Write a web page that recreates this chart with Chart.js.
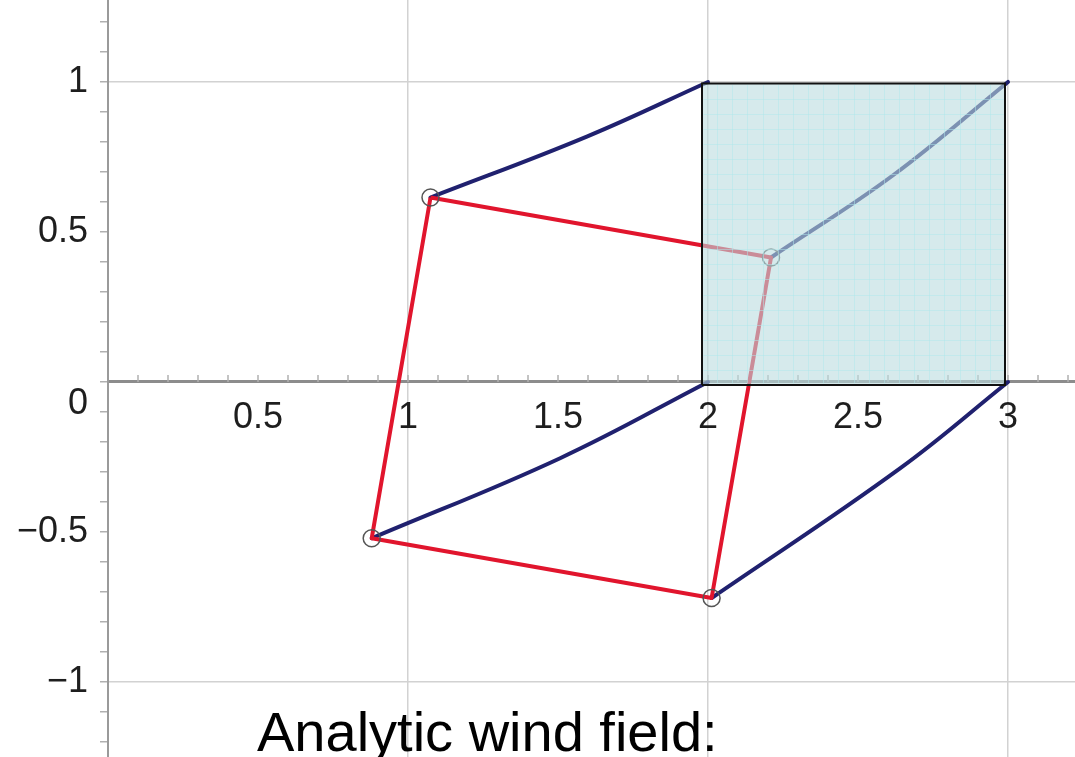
<!DOCTYPE html>
<html>
<head>
<meta charset="utf-8">
<script src="https://cdn.jsdelivr.net/npm/chart.js@4/dist/chart.umd.min.js"></script>
<style>
  html, body { margin: 0; padding: 0; background: #fff; }
  #wrap { position: relative; width: 1075px; height: 757px; overflow: hidden; }
  #caption {
    position: absolute; left: 257px; top: 704px;
    font: 56px "Liberation Sans", Arial, Helvetica, sans-serif;
    line-height: 56px; color: #000; white-space: nowrap;
  }
</style>
</head>
<body>
<div id="wrap">
  <canvas id="c" width="1075" height="757"></canvas>
  <div id="caption">Analytic wind field:</div>
</div>
<script>
// Corners of the advected parcel (red quadrilateral), in order
const parcelX = [1.075, 2.21, 2.012, 0.879];
const parcelY = [0.615, 0.415, -0.72, -0.521];

// Trajectories linking each parcel corner to a corner of the source square
const traj1X = [1.075, 1.596, 2.0];
const traj1Y = [0.615, 0.818, 1.0];
const traj2X = [2.21, 2.618, 3.0];
const traj2Y = [0.415, 0.690, 1.0];
const traj3X = [0.879, 1.507, 2.0];
const traj3Y = [-0.521, -0.254, 0.0];
const traj4X = [2.012, 2.64, 3.0];
const traj4Y = [-0.72, -0.288, 0.0];

// Shaded source square (closed outline)
const squareX = [1.98, 1.98, 2.99, 2.99, 1.98];
const squareY = [-0.01, 0.995, 0.995, -0.01, -0.01];

// Labelled ticks on each axis
const xTickLabels = [0.5, 1, 1.5, 2, 2.5, 3];
const yTickLabels = [1, 0.5, 0, -0.5, -1];

const pts = (xs, ys) => xs.map((v, i) => ({ x: v, y: ys[i] }));
const near = (a, b) => Math.abs(a - b) < 1e-6;
const fmt = v => (v < 0 ? '\u2212' : '') + String(Math.abs(v));

const NAVY = '#20216f';
const RED = '#e1152d';

// fine grid drawn inside the shaded square
const squareGrid = {
  id: 'squareGrid',
  afterDatasetsDraw(chart) {
    const { ctx, scales: { x, y } } = chart;
    const left = x.getPixelForValue(squareX[0]);
    const right = x.getPixelForValue(squareX[2]);
    const top = y.getPixelForValue(squareY[1]);
    const bottom = y.getPixelForValue(squareY[0]);
    ctx.save();
    ctx.beginPath();
    ctx.rect(left + 1.5, top + 1.5, right - left - 3, bottom - top - 3);
    ctx.clip();
    ctx.strokeStyle = 'rgba(175,232,236,0.5)';
    ctx.lineWidth = 1;
    const n = 20;
    for (let i = 1; i < n; i++) {
      const px = Math.round(left + (right - left) * i / n) + 0.5;
      ctx.beginPath(); ctx.moveTo(px, top); ctx.lineTo(px, bottom); ctx.stroke();
      const py = Math.round(top + (bottom - top) * i / n) + 0.5;
      ctx.beginPath(); ctx.moveTo(left, py); ctx.lineTo(right, py); ctx.stroke();
    }
    ctx.restore();
  }
};

// small tick marks standing on the horizontal axis
const xAxisTicks = {
  id: 'xAxisTicks',
  beforeDatasetsDraw(chart) {
    const { ctx, scales: { x, y } } = chart;
    const y0 = y.getPixelForValue(0);
    ctx.save();
    ctx.strokeStyle = '#b0b0b0';
    ctx.lineWidth = 1.5;
    x.ticks.forEach(t => {
      if (near(t.value, 0)) return;
      const px = x.getPixelForValue(t.value);
      ctx.beginPath(); ctx.moveTo(px, y0); ctx.lineTo(px, y0 - 7); ctx.stroke();
    });
    ctx.restore();
  }
};

const lineSet = (data, color, width, extra) => Object.assign({
  data, showLine: true, borderColor: color, borderWidth: width,
  pointRadius: 0, pointHoverRadius: 0, fill: false
}, extra || {});

const curve = { tension: 0.4, borderCapStyle: 'round' };

new Chart(document.getElementById('c'), {
  type: 'scatter',
  data: {
    datasets: [
      // drawn last: translucent square on top of everything
      lineSet(pts(squareX, squareY), '#111', 2, {
        fill: 'shape', backgroundColor: 'rgba(187,220,223,0.6)', tension: 0
      }),
      {
        data: pts(parcelX, parcelY), showLine: false,
        pointRadius: 8.5, pointHoverRadius: 8.5, pointBorderWidth: 1.5,
        pointBorderColor: '#555', pointBackgroundColor: 'rgba(0,0,0,0)'
      },
      lineSet(pts([...parcelX, parcelX[0]], [...parcelY, parcelY[0]]), RED, 4, {
        tension: 0, borderJoinStyle: 'round'
      }),
      lineSet(pts(traj1X, traj1Y), NAVY, 4, curve),
      lineSet(pts(traj2X, traj2Y), NAVY, 4, curve),
      lineSet(pts(traj3X, traj3Y), NAVY, 4, curve),
      lineSet(pts(traj4X, traj4Y), NAVY, 4, curve)
    ]
  },
  options: {
    responsive: false,
    devicePixelRatio: 1,
    animation: false,
    layout: { autoPadding: false, padding: { left: 0, right: 0, top: 0, bottom: 0 } },
    plugins: { legend: { display: false }, tooltip: { enabled: false } },
    scales: {
      x: {
        type: 'linear',
        min: 0, max: 3.2233,
        position: { y: 0 },
        border: { display: true, color: '#8c8c8c', width: 3 },
        grid: {
          drawTicks: false,
          lineWidth: 1.5,
          color: ctx => {
            const v = ctx.tick ? ctx.tick.value : NaN;
            return (near(v, Math.round(v)) && !near(v, 0)) ? '#d2d2d2' : 'rgba(0,0,0,0)';
          }
        },
        ticks: {
          stepSize: 0.1, includeBounds: false, autoSkip: false, maxRotation: 0,
          padding: 14, color: '#1e1e1e',
          font: { family: '"Liberation Sans", Arial, Helvetica, sans-serif', size: 36 },
          callback: v => {
            const hit = xTickLabels.find(l => near(l, v));
            return hit === undefined ? '' : fmt(hit);
          }
        },
        afterFit: s => { s.paddingLeft = 0; s.paddingRight = 0; }
      },
      y: {
        type: 'linear',
        min: -1.25, max: 1.2733,
        position: 'left',
        border: { display: true, color: '#9a9a9a', width: 2 },
        grid: {
          drawTicks: true, tickLength: 8, tickWidth: 1.5, tickColor: '#b0b0b0',
          lineWidth: 1.5,
          color: ctx => {
            const v = ctx.tick ? ctx.tick.value : NaN;
            return (near(v, Math.round(v)) && !near(v, 0)) ? '#d2d2d2' : 'rgba(0,0,0,0)';
          }
        },
        ticks: {
          stepSize: 0.1, includeBounds: false, autoSkip: false,
          padding: 12, color: '#1e1e1e',
          font: { family: '"Liberation Sans", Arial, Helvetica, sans-serif', size: 36 },
          callback: v => {
            const hit = yTickLabels.find(l => near(l, v));
            if (hit === undefined) return '';
            return hit === 0 ? ['', '0'] : fmt(hit);
          }
        },
        afterFit: s => { s.width = 108; s.paddingTop = 0; s.paddingBottom = 0; }
      }
    }
  },
  plugins: [xAxisTicks, squareGrid]
});
</script>
</body>
</html>
